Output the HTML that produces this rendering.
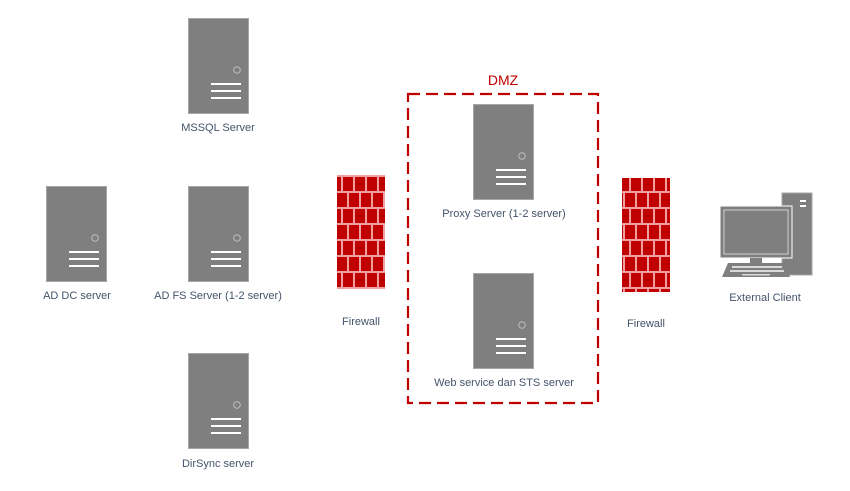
<!DOCTYPE html>
<html><head><style>
html,body{margin:0;padding:0;background:#fff;}
svg{display:block;}
text{font-family:"Liberation Sans",sans-serif;font-size:11px;fill:#44546a;text-anchor:middle;}
</style></head><body>
<svg width="850" height="491" viewBox="0 0 850 491" xmlns="http://www.w3.org/2000/svg">
<defs>
<g id="srv">
<rect x="0.5" y="0.5" width="60" height="95" fill="#7f7f7f" stroke="#a6a6a6" stroke-width="1"/>
<circle cx="49" cy="52" r="3.3" fill="none" stroke="#bfbfbf" stroke-width="1"/>
<rect x="23" y="65" width="30" height="2" fill="#fff"/>
<rect x="23" y="72" width="30" height="2" fill="#fff"/>
<rect x="23" y="79" width="30" height="2" fill="#fff"/>
</g>
<pattern id="brick" x="0" y="0" width="24" height="32" patternUnits="userSpaceOnUse">
<rect width="24" height="32" fill="#f0a0a0"/>
<rect x="1" y="1" width="10" height="14" fill="#c00000"/>
<rect x="13" y="1" width="10" height="14" fill="#c00000"/>
<rect x="-5" y="17" width="10" height="14" fill="#c00000"/>
<rect x="7" y="17" width="10" height="14" fill="#c00000"/>
<rect x="19" y="17" width="10" height="14" fill="#c00000"/>
</pattern>
</defs>
<use href="#srv" x="188" y="18"/>
<text x="218" y="131">MSSQL Server</text>
<use href="#srv" x="46" y="186"/>
<text x="77" y="299">AD DC server</text>
<use href="#srv" x="188" y="186"/>
<text x="218" y="299">AD FS Server (1-2 server)</text>
<use href="#srv" x="188" y="353"/>
<text x="218" y="467">DirSync server</text>

<rect x="337" y="175" width="48" height="114" fill="url(#brick)"/>
<text x="361" y="325">Firewall</text>
<rect x="622" y="178" width="48" height="114" fill="url(#brick)"/>
<text x="646" y="327">Firewall</text>

<rect x="408" y="94" width="190" height="309" fill="none" stroke="#c00000" stroke-width="2.2" stroke-dasharray="12,6"/>
<text x="503" y="85" style="font-size:14px;fill:#c00000">DMZ</text>
<use href="#srv" x="473" y="104"/>
<text x="504" y="217">Proxy Server (1-2 server)</text>
<use href="#srv" x="473" y="273"/>
<text x="504" y="386">Web service dan STS server</text>

<!-- client -->
<rect x="782" y="193" width="30" height="82" fill="#7f7f7f" stroke="#a6a6a6"/>
<rect x="800" y="200" width="6" height="2" fill="#fff"/>
<rect x="800" y="205" width="6" height="2" fill="#fff"/>
<rect x="720" y="206" width="72" height="52" fill="#7f7f7f" stroke="#fff" stroke-width="1"/>
<rect x="724" y="210" width="64" height="44" fill="none" stroke="#d0d0d0" stroke-width="1"/>
<rect x="750" y="258" width="12" height="5" fill="#7f7f7f"/>
<polygon points="728,263 784,263 790,277 722,277" fill="#7f7f7f"/>
<rect x="732" y="266" width="50" height="2" fill="#d9d9d9"/>
<rect x="730" y="270" width="54" height="2" fill="#d9d9d9"/>
<rect x="742" y="274" width="28" height="1.5" fill="#d9d9d9"/>
<text x="765" y="301">External Client</text>
</svg>
</body></html>
